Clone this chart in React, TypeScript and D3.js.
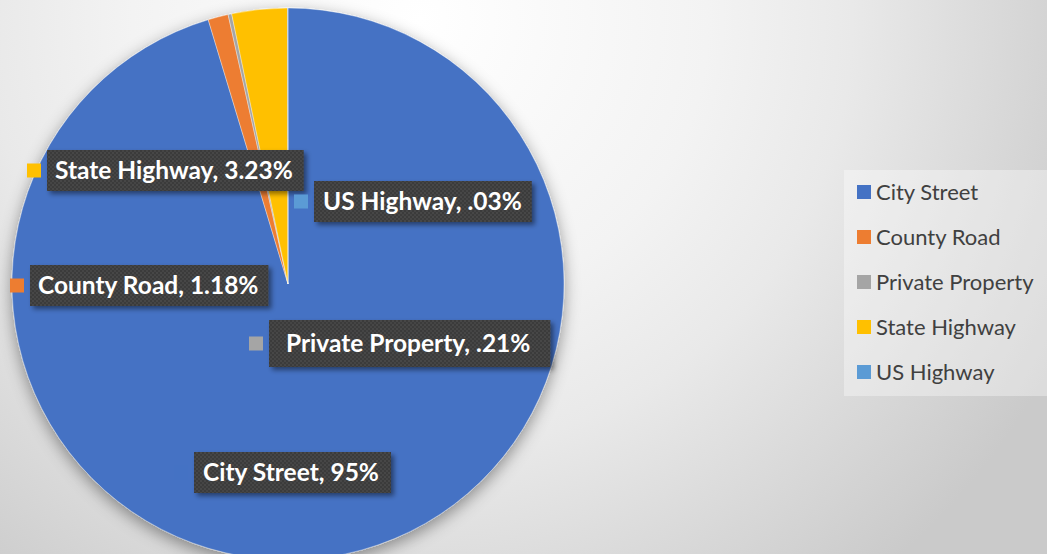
import React, { useEffect, useRef } from 'react';
import * as d3 from 'd3';

// ---- data ----
const categories = ['City Street', 'County Road', 'Private Property', 'State Highway', 'US Highway'];
const values = [95, 1.18, 0.21, 3.23, 0.03];
const valueLabels = ['95%', '1.18%', '.21%', '3.23%', '.03%'];
const colors = ['#4472C4', '#ED7D31', '#A5A5A5', '#FFC000', '#5B9BD5'];

// ---- layout ----
const W = 1047;
const H = 554;
const CX = 288;
const CY = 284;
const R = 276;
const labelLayout = [
  { x: 194, y: 452, h: 41, padL: 9, padR: 12 },
  { x: 30, y: 265, h: 41, padL: 8, padR: 10 },
  { x: 269, y: 320, h: 47, padL: 17, padR: 20 },
  { x: 47, y: 150, h: 41, padL: 8, padR: 11 },
  { x: 314, y: 181, h: 41, padL: 9, padR: 10 },
];
const LEG = { x: 844, y: 170, w: 203, h: 226, top: 192, step: 45 };

export default function App() {
  const ref = useRef<SVGSVGElement | null>(null);

  useEffect(() => {
    const svg = d3.select(ref.current);
    svg.selectAll('*').remove();
    const defs = svg.append('defs');

    const bg = defs.append('radialGradient').attr('id', 'bg')
      .attr('gradientUnits', 'userSpaceOnUse')
      .attr('cx', 420).attr('cy', 20).attr('r', 720);
    bg.append('stop').attr('offset', 0).attr('stop-color', '#ffffff');
    bg.append('stop').attr('offset', 0.4).attr('stop-color', '#f3f3f3');
    bg.append('stop').attr('offset', 0.6).attr('stop-color', '#e9e9e9');
    bg.append('stop').attr('offset', 1).attr('stop-color', '#cacaca');

    const sh = defs.append('filter').attr('id', 'pieShadow')
      .attr('x', -0.2).attr('y', -0.2).attr('width', 1.4).attr('height', 1.4);
    sh.append('feDropShadow').attr('dx', 0).attr('dy', 5).attr('stdDeviation', 8)
      .attr('flood-color', '#000').attr('flood-opacity', 0.4);

    const lsh = defs.append('filter').attr('id', 'lblShadow')
      .attr('x', -0.1).attr('y', -0.3).attr('width', 1.3).attr('height', 1.8);
    lsh.append('feDropShadow').attr('dx', 3).attr('dy', 3).attr('stdDeviation', 2.5)
      .attr('flood-color', '#000').attr('flood-opacity', 0.45);

    const pat = defs.append('pattern').attr('id', 'tex')
      .attr('patternUnits', 'userSpaceOnUse').attr('width', 4).attr('height', 4);
    pat.append('rect').attr('width', 4).attr('height', 4).attr('fill', '#3a3a3a');
    pat.append('rect').attr('width', 2).attr('height', 2).attr('fill', '#474747');
    pat.append('rect').attr('x', 2).attr('y', 2).attr('width', 2).attr('height', 2).attr('fill', '#444444');

    svg.append('rect').attr('width', W).attr('height', H).attr('fill', 'url(#bg)');

    const pie = d3.pie<number>().sort(null).value((d) => d);
    const arcs = pie(values);
    const arc = d3.arc<d3.PieArcDatum<number>>().innerRadius(0).outerRadius(R);

    const g = svg.append('g').attr('transform', `translate(${CX},${CY})`).attr('filter', 'url(#pieShadow)');
    g.selectAll('path').data(arcs).enter().append('path')
      .attr('d', arc)
      .attr('fill', (_, i) => colors[i])
      .attr('stroke', '#ffffff').attr('stroke-width', 0.6).attr('stroke-opacity', 0.6);

    // data labels
    const lg = svg.append('g');
    categories.forEach((c, i) => {
      const p = labelLayout[i];
      const grp = lg.append('g');
      const rect = grp.append('rect').attr('x', p.x).attr('y', p.y).attr('height', p.h)
        .attr('fill', 'url(#tex)').attr('filter', 'url(#lblShadow)');
      const t = grp.append('text')
        .attr('x', p.x + p.padL).attr('y', p.y + p.h / 2 + 8.5)
        .attr('fill', '#ffffff')
        .style('font-family', 'Lato, "Open Sans", sans-serif')
        .style('font-weight', 700).style('font-size', '24.5px')
        .text(`${c}, ${valueLabels[i]}`);
      const tw = (t.node() as SVGTextElement).getComputedTextLength();
      rect.attr('width', tw + p.padL + p.padR);
      grp.append('rect').attr('x', p.x - 20).attr('y', p.y + p.h / 2 - 7)
        .attr('width', 14).attr('height', 14).attr('fill', colors[i]);
    });

    // legend
    const leg = svg.append('g');
    leg.append('rect').attr('x', LEG.x).attr('y', LEG.y).attr('width', LEG.w).attr('height', LEG.h)
      .attr('fill', '#ffffff').attr('fill-opacity', 0.35);
    categories.forEach((c, i) => {
      const cy = LEG.top + i * LEG.step;
      leg.append('rect').attr('x', LEG.x + 13).attr('y', cy - 7).attr('width', 14).attr('height', 14)
        .attr('fill', colors[i]);
      leg.append('text').attr('x', LEG.x + 32).attr('y', cy + 7.5)
        .attr('fill', '#404040')
        .style('font-family', 'Lato, "Open Sans", sans-serif')
        .style('font-size', '22px')
        .text(c);
    });
  }, []);

  return (
    <svg ref={ref} width={W} height={H}
      style={{ position: 'absolute', left: 0, top: 0, display: 'block' }} />
  );
}
